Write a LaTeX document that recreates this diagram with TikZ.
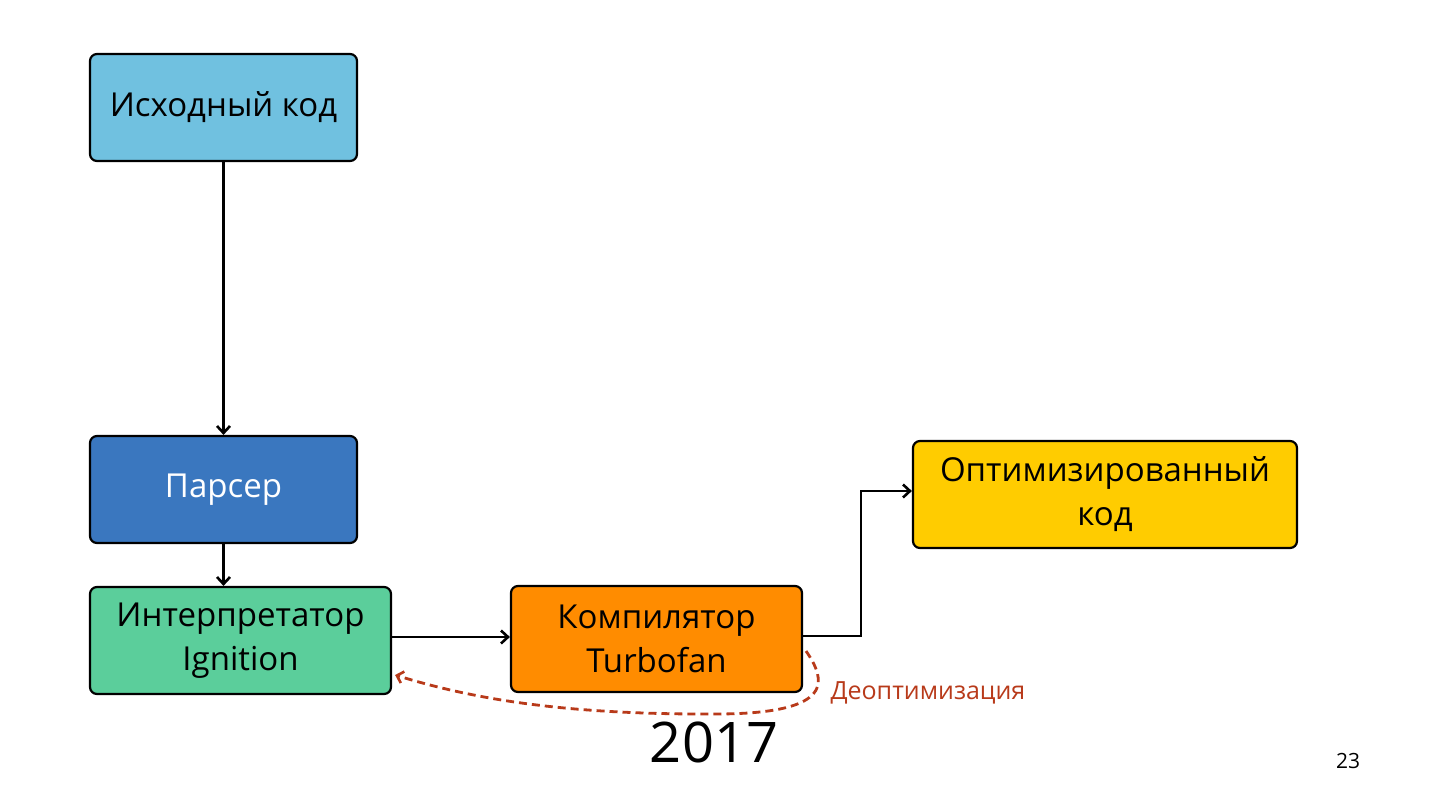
\documentclass[tikz,border=0pt]{standalone}
\usepackage{fontspec}
\setmainfont{Open Sans}
\usetikzlibrary{arrows.meta}
\definecolor{cSrc}{HTML}{70C1E0}
\definecolor{cPar}{HTML}{3A77BF}
\definecolor{cInt}{HTML}{5BCE9B}
\definecolor{cComp}{HTML}{FF8C00}
\definecolor{cOpt}{HTML}{FFCC00}
\definecolor{cDeopt}{HTML}{B83A1A}
\begin{document}
\begin{tikzpicture}[x=1pt,y=-1pt,
  blk/.style={draw=black, line width=2.2pt, rounded corners=7pt, align=center,
    font=\fontsize{33}{44}\selectfont, inner sep=0pt},
  conn/.style={draw=black, line width=2.8pt, -{Straight Barb[length=7pt,width=13pt,line width=2.6pt]}},
  deopt/.style={draw=cDeopt, line width=2.8pt, dash pattern=on 8pt off 5pt,
    -{Straight Barb[length=6pt,width=12pt,line width=2.6pt]}}]
\useasboundingbox (0,0) rectangle (1430,804);
\node[blk, fill=cSrc, minimum width=267pt, minimum height=107pt] (src) at (223.5,107.5) {Исходный код};
\node[blk, fill=cPar, text=white, minimum width=267pt, minimum height=107pt] (par) at (223.5,489.5) {Парсер};
\node[blk, fill=cInt, minimum width=301pt, minimum height=107pt] (int) at (240.5,640.5) {Интерпретатор\\Ignition};
\node[blk, fill=cComp, minimum width=291pt, minimum height=106pt] (comp) at (656.5,639) {Компилятор\\Turbofan};
\node[blk, fill=cOpt, minimum width=384pt, minimum height=107pt] (opt) at (1105,494.5) {Оптимизированный\\код};
\draw[conn] (src.south) -- (par.north);
\draw[conn] (par.south) -- (int.north -| par.south);
\draw[conn] (int.east |- 0,637) -- (comp.west |- 0,637);
\coordinate (bend) at (861,636);
\draw[conn] (comp.east |- bend) -- (bend) -- (bend |- 0,491) -- (opt.west |- 0,491);
\coordinate (dstart) at (806,651);
\draw[deopt] (dstart) .. controls (826,680) and (836,713) .. (720,714)
  .. controls (560,715) and (470,698) .. ([xshift=3pt]int.east |- 0,675);
\node[text=cDeopt, font=\fontsize{25}{30}\selectfont, anchor=west] (lbl) at (827,693) {Деоптимизация};
\node[font=\fontsize{56}{66}\selectfont] (year) at (714,742) {2017};
\node[font=\fontsize{21}{24}\selectfont] (pg) at (1348,761) {23};
\end{tikzpicture}
\end{document}
